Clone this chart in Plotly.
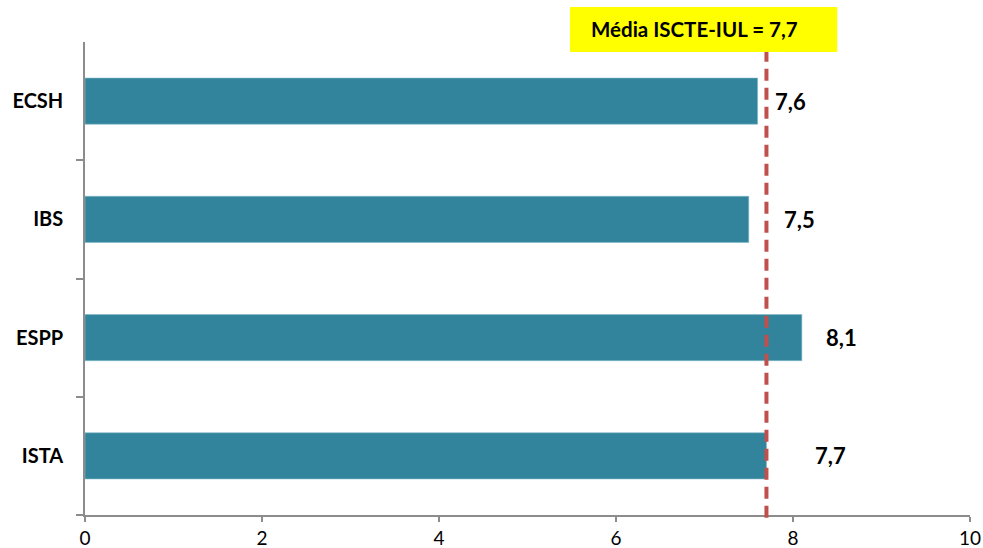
import plotly.graph_objects as go

categories = ["ECSH", "IBS", "ESPP", "ISTA"]
values = [7.6, 7.5, 8.1, 7.7]
value_labels = ["7,6", "7,5", "8,1", "7,7"]
mean_value = 7.7
mean_label = "Média ISCTE-IUL = 7,7"
x_ticks = [0, 2, 4, 6, 8, 10]

label_shift = [33, 51, 40, 64]  # style: pixel offsets of data labels

FONT = "Lato, Carlito, 'Open Sans', sans-serif"
BAR = "#31849B"
RED = "#C0504D"
AXIS = "#8C8C8C"

fig = go.Figure()
fig.add_trace(go.Bar(
    y=categories, x=values, orientation="h",
    marker=dict(color=BAR, line=dict(color="#7FB8C8", width=0.6)),
    width=0.39, hoverinfo="skip",
))

for c, v, t, s in zip(categories, values, value_labels, label_shift):
    fig.add_annotation(x=v, y=c, xref="x", yref="y", text=f"<b>{t}</b>",
                       showarrow=False, xshift=s, xanchor="center",
                       font=dict(family=FONT, size=22, color="black"))

# mean line
fig.add_shape(type="line", xref="x", yref="paper", x0=mean_value, x1=mean_value,
              y0=-0.006, y1=0.979, line=dict(color=RED, width=4, dash="12px,7px"))

# mean label box
fig.add_shape(type="rect", xref="x", yref="paper", x0=5.48, x1=8.50,
              y0=0.979, y1=1.074, fillcolor="#FFFF00", line=dict(width=0), layer="above")
fig.add_annotation(x=5.70, y=1.0265, xref="x", yref="paper", text=f"<b>{mean_label}</b>",
                   showarrow=False, xanchor="left", yanchor="middle",
                   font=dict(family=FONT, size=20.5, color="black"))

fig.update_layout(
    width=983, height=548,
    margin=dict(l=85, r=13, t=42, b=33, autoexpand=False),
    plot_bgcolor="white", paper_bgcolor="white",
    showlegend=False,
    font=dict(family=FONT, color="black"),
)
fig.update_xaxes(range=[0, 10], tickvals=x_ticks, ticktext=[str(t) for t in x_ticks],
                 showgrid=False, zeroline=False, showline=True, linecolor=AXIS, linewidth=1.5,
                 ticks="outside", ticklen=5, tickcolor=AXIS, tickwidth=1.5, automargin=False,
                 tickfont=dict(family=FONT, size=19, color="black"))
fig.update_yaxes(categoryorder="array", categoryarray=categories[::-1],
                 range=[-0.5, 3.5], showgrid=False, zeroline=False,
                 showline=True, linecolor=AXIS, linewidth=1.5,
                 ticks="outside", ticklen=7, tickcolor=AXIS, tickwidth=1.5,
                 tickson="boundaries", ticklabelstandoff=16, automargin=False,
                 tickfont=dict(family=FONT, size=20, color="black"),
                 tickvals=categories, ticktext=[f"<b>{c}</b>" for c in categories])

fig.write_html("out.html", config={"displayModeBar": False},
               post_script="document.body.style.margin='0';document.body.style.overflow='hidden';")
